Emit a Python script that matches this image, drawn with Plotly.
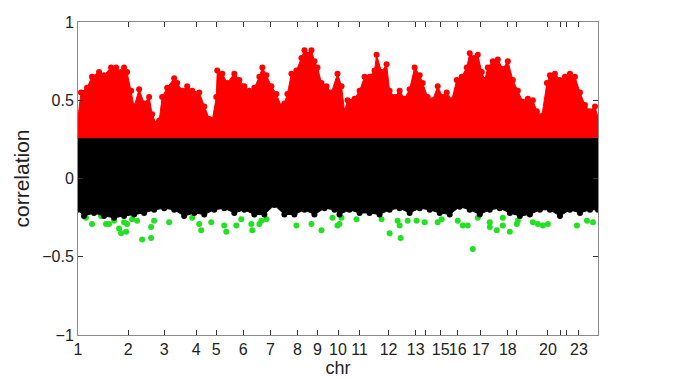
import plotly.graph_objects as go

# ---- axis data -------------------------------------------------------------
chr_names = ["1", "2", "3", "4", "5", "6", "7", "8", "9", "10", "11", "12",
             "13", "14", "15", "16", "17", "18", "19", "20", "21", "22", "23"]
chr_start = [0, 50, 86, 118, 138, 165, 192, 219, 239, 259.5, 281, 310,
             337, 347, 362, 379, 402, 429, 438, 469, 482, 488, 500]
genome_end = 519
shown_labels = {"1", "2", "3", "4", "5", "6", "7", "8", "9", "10", "11", "12",
                "13", "15", "16", "17", "18", "20", "23"}

# ---- red (high positive correlation) upper envelope -----------------------
red_pos = [0, 3, 9, 14, 21, 26, 33, 38, 43, 46, 49, 53, 56, 61, 66, 71, 74, 78,
           81, 84, 89, 96, 99, 104, 109, 114, 121, 126, 131, 134, 138, 139, 144,
           149, 156, 161, 166, 171, 176, 181, 184, 188, 193, 198, 203, 206, 209,
           213, 218, 223, 226, 229, 233, 236, 239, 243, 248, 253, 259, 263, 266,
           269, 276, 281, 286, 291, 296, 298, 303, 308, 311, 316, 321, 326, 331,
           336, 341, 344, 349, 354, 359, 364, 368, 373, 378, 383, 388, 391, 395,
           399, 403, 406, 409, 414, 419, 424, 429, 434, 439, 444, 449, 454, 458,
           463, 468, 471, 476, 481, 486, 491, 496, 501, 506, 511, 516, 519]
red_corr = [0.39, 0.55, 0.58, 0.65, 0.68, 0.66, 0.71, 0.71, 0.68, 0.71, 0.68,
            0.56, 0.46, 0.57, 0.48, 0.52, 0.41, 0.35, 0.37, 0.52, 0.58, 0.64,
            0.61, 0.56, 0.59, 0.56, 0.55, 0.46, 0.38, 0.37, 0.52, 0.69, 0.67,
            0.61, 0.67, 0.63, 0.59, 0.56, 0.58, 0.65, 0.71, 0.66, 0.59, 0.54,
            0.46, 0.48, 0.54, 0.67, 0.69, 0.77, 0.82, 0.79, 0.82, 0.75, 0.71,
            0.61, 0.59, 0.55, 0.67, 0.59, 0.43, 0.50, 0.51, 0.56, 0.65, 0.65,
            0.69, 0.79, 0.68, 0.73, 0.56, 0.52, 0.56, 0.51, 0.57, 0.71, 0.66,
            0.61, 0.52, 0.50, 0.59, 0.52, 0.55, 0.50, 0.63, 0.65, 0.71, 0.80,
            0.77, 0.79, 0.68, 0.63, 0.71, 0.75, 0.76, 0.70, 0.75, 0.63, 0.56,
            0.49, 0.51, 0.50, 0.43, 0.40, 0.61, 0.66, 0.67, 0.63, 0.65, 0.67,
            0.65, 0.55, 0.47, 0.43, 0.46, 0.39]

# ---- black (non-significant) band -----------------------------------------
black_top = 0.255
black_pos = [0, 6, 16, 26, 36, 46, 56, 66, 76, 86, 96, 106, 116, 126, 136, 146,
             156, 166, 176, 186, 196, 206, 216, 226, 236, 246, 256, 261, 271,
             281, 291, 301, 311, 321, 331, 341, 351, 361, 371, 381, 391, 401,
             411, 421, 431, 441, 451, 461, 471, 481, 491, 501, 511, 519]
black_low = [-0.20, -0.24, -0.22, -0.24, -0.25, -0.24, -0.23, -0.22, -0.20,
             -0.19, -0.20, -0.24, -0.22, -0.23, -0.20, -0.19, -0.22, -0.20,
             -0.23, -0.23, -0.17, -0.23, -0.23, -0.20, -0.23, -0.19, -0.20,
             -0.23, -0.20, -0.22, -0.22, -0.23, -0.20, -0.19, -0.22, -0.19,
             -0.20, -0.22, -0.23, -0.18, -0.20, -0.23, -0.20, -0.19, -0.22,
             -0.24, -0.23, -0.20, -0.20, -0.24, -0.20, -0.22, -0.20, -0.20]

# ---- green (negative correlation) points -----------------------------------
green_pos = [8, 14, 23, 28, 31, 36, 41, 43, 48, 46, 49, 54, 59, 64, 73, 73, 76,
             91, 114, 121, 123, 133, 146, 148, 158, 163, 173, 174, 181, 183,
             188, 218, 233, 243, 259, 263, 254, 261, 278, 303, 311, 319, 321,
             322, 329, 338, 346, 359, 363, 379, 384, 389, 394, 399, 411, 411,
             418, 424, 424, 431, 438, 439, 454, 459, 464, 469, 498, 508, 514]
green_corr = [-0.25, -0.29, -0.24, -0.29, -0.29, -0.27, -0.32, -0.35, -0.34,
              -0.28, -0.29, -0.26, -0.27, -0.39, -0.38, -0.31, -0.27, -0.28,
              -0.25, -0.29, -0.33, -0.28, -0.30, -0.34, -0.30, -0.26, -0.29,
              -0.33, -0.29, -0.27, -0.26, -0.30, -0.29, -0.33, -0.30, -0.25,
              -0.25, -0.29, -0.26, -0.26, -0.35, -0.27, -0.30, -0.38, -0.27,
              -0.27, -0.28, -0.28, -0.26, -0.27, -0.30, -0.30, -0.45, -0.25,
              -0.28, -0.31, -0.33, -0.30, -0.25, -0.34, -0.29, -0.27, -0.28,
              -0.29, -0.30, -0.29, -0.30, -0.27, -0.28]

RED, BLACK, GREEN = "#ff0000", "#000000", "#22e022"
MS = 6
FONT = "Liberation Sans, Arial"


def mk(color):
    return dict(color=color, size=MS, opacity=1, line=dict(width=0, color=color))


# black band outline: flat top (threshold), ragged bottom edge
band_x = [0, genome_end] + black_pos[::-1]
band_y = [black_top, black_top] + black_low[::-1]

fig = go.Figure()
fig.add_trace(go.Scatter(x=red_pos, y=red_corr, mode="lines",
                         fill="tozeroy", fillcolor=RED,
                         line=dict(color=RED, width=1), hoverinfo="skip"))
fig.add_trace(go.Scatter(x=red_pos, y=red_corr, mode="markers",
                         marker=mk(RED), hoverinfo="skip"))
fig.add_trace(go.Scatter(x=green_pos, y=green_corr, mode="markers",
                         marker=mk(GREEN), hoverinfo="skip"))
fig.add_trace(go.Scatter(x=band_x, y=band_y, mode="lines",
                         fill="toself", fillcolor=BLACK,
                         line=dict(color=BLACK, width=1), hoverinfo="skip"))
fig.add_trace(go.Scatter(x=black_pos, y=black_low, mode="markers",
                         marker=mk(BLACK), hoverinfo="skip"))

ticktext = [n if n in shown_labels else "" for n in chr_names]
axis_common = dict(showgrid=False, zeroline=False, showline=True,
                   linecolor="#8a8a8a", linewidth=1, mirror="ticks",
                   ticks="inside", ticklen=5, tickcolor="#333333",
                   automargin=False, tickangle=0,
                   tickfont=dict(family=FONT, size=16, color="#222222"))

# page body has an 8px default margin, so the figure is sized to fit the window
fig.update_layout(
    width=677, height=383,
    margin=dict(l=70, r=87, t=14, b=56),
    paper_bgcolor="white", plot_bgcolor="white",
    showlegend=False,
    xaxis=dict(range=[0, genome_end], tickmode="array", tickvals=chr_start,
               ticktext=ticktext,
               title=dict(text="chr", standoff=3,
                          font=dict(family=FONT, size=18, color="#222222")),
               **axis_common),
    yaxis=dict(range=[-1, 1], tickmode="array",
               tickvals=[-1, -0.5, 0, 0.5, 1],
               ticktext=["\u22121", "\u22120.5", "0", "0.5", "1"],
               title=dict(text="correlation", standoff=6,
                          font=dict(family=FONT, size=21, color="#222222")),
               **axis_common),
)

fig.write_html("out.html")
